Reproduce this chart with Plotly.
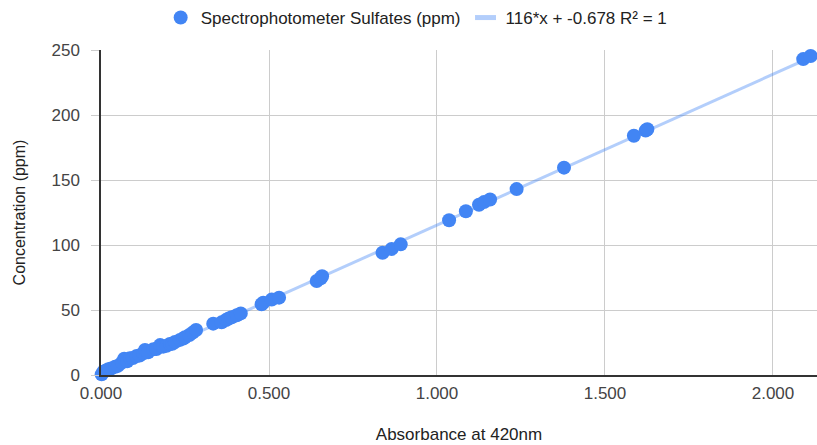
import plotly.graph_objects as go

absorbance = [0.002, 0.007, 0.015, 0.022, 0.030, 0.042, 0.050, 0.062, 0.069, 0.078, 0.086, 0.095,
              0.106, 0.115, 0.126, 0.131, 0.140, 0.156, 0.165, 0.176, 0.185, 0.195, 0.205, 0.212,
              0.220, 0.235, 0.245, 0.250, 0.263, 0.273, 0.283, 0.334, 0.359, 0.372, 0.380, 0.389,
              0.404, 0.416, 0.478, 0.483, 0.508, 0.530, 0.642, 0.654, 0.658, 0.838, 0.865, 0.892,
              1.036, 1.086, 1.125, 1.140, 1.158, 1.237, 1.378, 1.586, 1.621, 1.626, 2.090, 2.112]
sulfates = [0.5, 2.5, 3.5, 4.4, 5.0, 6.4, 7.0, 9.5, 12.5, 10.5, 12.8, 13.0,
            14.6, 15.0, 16.7, 19.2, 17.5, 19.8, 20.0, 23.0, 21.8, 22.5, 23.8, 24.0,
            25.4, 27.0, 28.0, 29.0, 30.8, 32.6, 34.6, 39.5, 40.5, 42.3, 43.5, 44.4,
            46.0, 47.4, 54.4, 55.6, 58.0, 59.5, 72.3, 74.4, 76.0, 94.0, 97.0, 100.5,
            119.0, 126.0, 131.0, 133.0, 135.0, 143.0, 159.5, 184.0, 188.0, 189.0, 243.0, 245.4]

slope = 116.0
intercept = -0.678
trend_label = "116*x + -0.678 R² = 1"
trend_x = [0.0, 2.13]
trend_y = [slope * v + intercept for v in trend_x]

x_ticks = [0, 0.5, 1.0, 1.5, 2.0]
y_ticks = [0, 50, 100, 150, 200, 250]

TREND_COLOR = "rgba(66,133,244,0.4)"
FONT = "Arial, 'Liberation Sans', sans-serif"

fig = go.Figure()
fig.add_trace(go.Scatter(
    x=trend_x, y=trend_y, mode="lines", showlegend=False,
    line=dict(color=TREND_COLOR, width=3), hoverinfo="skip",
))
fig.add_trace(go.Scatter(
    x=absorbance, y=sulfates, mode="markers",
    name="Spectrophotometer Sulfates (ppm)",
    marker=dict(color="#4285f4", size=14, line=dict(width=0)),
    cliponaxis=False,
))
# legend entry for the trendline (short thick swatch like the original)
fig.add_trace(go.Scatter(
    x=[None], y=[None], mode="markers", name=trend_label,
    marker=dict(symbol="line-ew", size=15, color=TREND_COLOR,
                line=dict(color=TREND_COLOR, width=6)),
))

fig.update_layout(
    width=817, height=445,
    margin=dict(l=101, r=0, t=50, b=70),
    paper_bgcolor="white", plot_bgcolor="white",
    font=dict(family=FONT, size=17, color="#222"),
    showlegend=True,
    legend=dict(orientation="h", x=0.51, xanchor="center", y=1.0, yanchor="top",
                xref="container", yref="container",
                font=dict(size=17, color="#222"), itemwidth=30),
    xaxis=dict(range=[0, 2.131], tickvals=x_ticks, tickformat=".3f",
               showgrid=True, gridcolor="#cccccc", gridwidth=1,
               showline=True, linecolor="#333333", linewidth=1.5,
               zeroline=False, ticks="", tickfont=dict(color="#444", size=17),
               ticklabelstandoff=2,
               title=dict(text="Absorbance at 420nm", standoff=26, font=dict(size=17, color="#222"))),
    yaxis=dict(range=[0, 250], tickvals=y_ticks,
               showgrid=True, gridcolor="#cccccc", gridwidth=1,
               showline=True, linecolor="#333333", linewidth=1.5,
               zeroline=False, ticks="outside", ticklen=8, tickcolor="#cccccc", tickwidth=1,
               tickfont=dict(color="#444", size=17),
               ticklabelstandoff=8,
               title=dict(text="Concentration (ppm)", standoff=22, font=dict(size=16, color="#222"))),
)
fig.write_html("out.html", config={"displayModeBar": False},
               post_script="document.body.style.margin='0';")
